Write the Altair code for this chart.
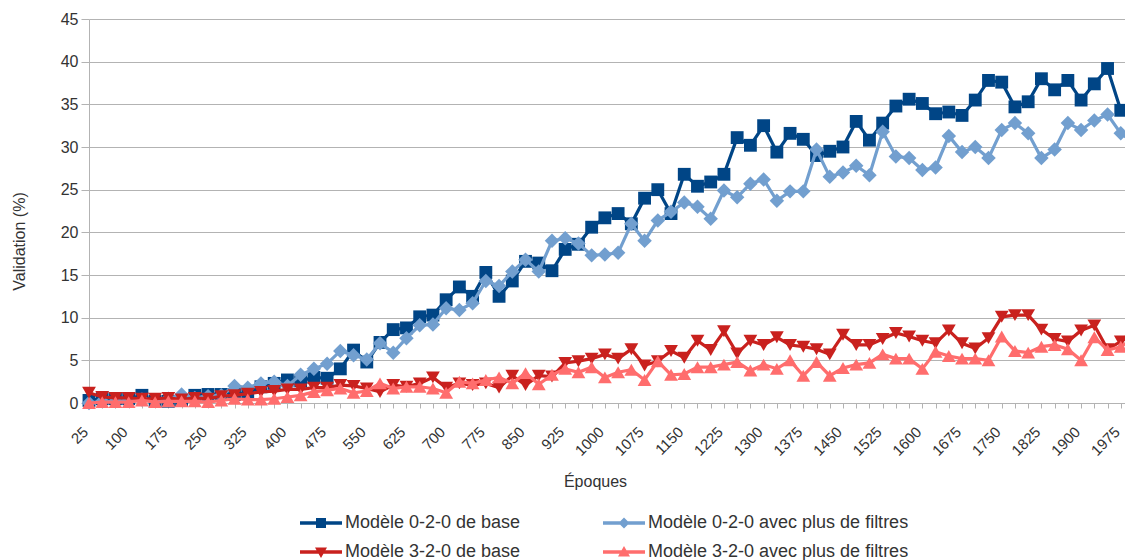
import altair as alt
import pandas as pd

epochs = [25, 50, 75, 100, 125, 150, 175, 200, 225, 250,
          275, 300, 325, 350, 375, 400, 425, 450, 475, 500,
          525, 550, 575, 600, 625, 650, 675, 700, 725, 750,
          775, 800, 825, 850, 875, 900, 925, 950, 975, 1000,
          1025, 1050, 1075, 1100, 1125, 1150, 1175, 1200, 1225, 1250,
          1275, 1300, 1325, 1350, 1375, 1400, 1425, 1450, 1475, 1500,
          1525, 1550, 1575, 1600, 1625, 1650, 1675, 1700, 1725, 1750,
          1775, 1800, 1825, 1850, 1875, 1900, 1925, 1950, 1975, 2000]

y_ticks = [0, 5, 10, 15, 20, 25, 30, 35, 40, 45]

names = ["Modèle 0-2-0 de base", "Modèle 0-2-0 avec plus de filtres",
         "Modèle 3-2-0 de base", "Modèle 3-2-0 avec plus de filtres"]
colors = ["#004586", "#729fcf", "#c9211e", "#ff6d6d"]

base_020 = [0.3, 0.5, 0.5, 0.5, 0.9, 0.2, 0.2, 0.3, 0.9, 1.0,
            1.0, 1.0, 1.2, 1.9, 2.3, 2.7, 2.6, 3.0, 2.9, 4.0,
            6.2, 4.8, 7.1, 8.6, 8.8, 10.1, 10.3, 12.1, 13.6, 12.5,
            15.3, 12.5, 14.3, 16.6, 16.4, 15.5, 18.0, 18.6, 20.6, 21.7,
            22.2, 21.0, 24.0, 25.0, 22.2, 26.8, 25.4, 25.9, 26.8, 31.1,
            30.2, 32.5, 29.4, 31.6, 30.9, 29.0, 29.5, 30.0, 33.0, 30.8,
            32.8, 34.8, 35.6, 35.1, 33.9, 34.1, 33.7, 35.5, 37.8, 37.6,
            34.7, 35.3, 38.0, 36.7, 37.8, 35.5, 37.4, 39.2, 34.3, 33.0]

filt_020 = [0.0, 0.2, 0.2, 0.3, 0.4, 0.3, 0.5, 1.0, 0.6, 0.8,
            0.9, 2.0, 1.8, 2.3, 2.5, 2.0, 3.3, 4.0, 4.6, 6.1,
            5.6, 5.1, 7.0, 5.9, 7.6, 9.1, 9.2, 11.1, 10.9, 11.7,
            14.3, 13.7, 15.4, 16.8, 15.4, 19.0, 19.3, 18.7, 17.3, 17.4,
            17.6, 21.0, 19.0, 21.4, 22.4, 23.5, 23.0, 21.6, 24.9, 24.1,
            25.7, 26.2, 23.7, 24.8, 24.8, 29.7, 26.5, 27.0, 27.8, 26.7,
            31.8, 28.9, 28.7, 27.3, 27.6, 31.3, 29.4, 30.0, 28.7, 32.0,
            32.8, 31.6, 28.7, 29.7, 32.8, 32.0, 33.1, 33.8, 31.6, 30.5]

base_320 = [1.2, 0.7, 0.6, 0.6, 0.5, 0.5, 0.6, 0.4, 0.6, 0.5,
            0.8, 0.9, 1.1, 1.3, 1.4, 1.6, 1.6, 1.8, 1.8, 2.1,
            2.0, 1.7, 1.3, 2.1, 1.9, 2.3, 3.0, 1.8, 2.3, 2.1,
            2.3, 1.8, 3.2, 2.1, 3.2, 3.1, 4.7, 4.9, 5.2, 5.7,
            5.2, 6.3, 4.4, 4.9, 6.1, 5.3, 7.3, 6.2, 8.4, 5.8,
            7.3, 6.8, 7.7, 6.8, 6.6, 6.3, 5.7, 8.0, 6.8, 6.8,
            7.5, 8.2, 7.8, 7.3, 7.0, 8.5, 7.0, 6.4, 7.6, 10.1,
            10.3, 10.3, 8.6, 7.5, 7.2, 8.5, 9.1, 6.3, 7.2, 8.6]

filt_320 = [0.0, 0.1, 0.1, 0.1, 0.3, 0.1, 0.2, 0.2, 0.2, 0.1,
            0.3, 0.5, 0.4, 0.4, 0.5, 0.7, 0.9, 1.3, 1.5, 1.7,
            1.2, 1.4, 2.3, 1.7, 1.9, 1.9, 1.7, 1.2, 2.5, 2.3,
            2.7, 3.0, 2.3, 3.5, 2.2, 3.3, 4.0, 3.6, 4.2, 3.0,
            3.6, 3.9, 2.7, 4.9, 3.3, 3.4, 4.2, 4.2, 4.5, 4.8,
            3.8, 4.5, 4.0, 5.0, 3.2, 4.8, 3.2, 4.1, 4.5, 4.7,
            5.7, 5.2, 5.2, 4.0, 6.0, 5.5, 5.2, 5.2, 5.0, 7.8,
            6.1, 5.9, 6.6, 6.8, 6.3, 5.0, 7.7, 6.2, 6.6, 7.6]

series_values = [base_020, filt_020, base_320, filt_320]
marker_shapes = ["square", "diamond", "triangle-down", "triangle-up"]
marker_sizes = [165, 210, 190, 190]

LINE = "M-2.1,-0.18H2.1V0.18H-2.1Z "
legend_paths = [
    LINE + "M-0.5,-0.5H0.5V0.5H-0.5Z",
    LINE + "M0,-0.55L0.55,0L0,0.55L-0.55,0Z",
    LINE + "M-0.6,-0.45H0.6L0,0.6Z",
    LINE + "M0,-0.6L0.6,0.45H-0.6Z",
]

FONT = "Liberation Sans"
TXT = "#333333"
GRID = "#b3b3b3"

frames = []
for name, vals in zip(names, series_values):
    frames.append(pd.DataFrame({"epoch": epochs, "value": vals, "series": name}))
df = pd.concat(frames, ignore_index=True)

x_enc = alt.X(
    "epoch:Q",
    scale=alt.Scale(domain=[25, 2000], range=[0, 1045], nice=False, zero=False),
    axis=alt.Axis(
        values=epochs,
        format="d",
        labelExpr="(datum.value - 25) % 75 == 0 ? datum.label : ''",
        labelAngle=315,
        labelAlign="right",
        labelBaseline="middle",
        labelPadding=21,
        labelOffset=-4,
        labelOverlap=False,
        labelFlush=False,
        labelFont=FONT,
        labelFontSize=15,
        labelColor=TXT,
        tickSize=5,
        tickColor=GRID,
        domainColor=GRID,
        grid=False,
        title="Époques",
        titleFont=FONT,
        titleFontSize=16,
        titleFontWeight="normal",
        titleColor=TXT,
        titleX=506,
        titleY=78,
        titleAlign="center",
        titleBaseline="middle",
    ),
)

y_enc = alt.Y(
    "value:Q",
    scale=alt.Scale(domain=[0, 45], nice=False),
    axis=alt.Axis(
        values=y_ticks,
        grid=True,
        gridColor=GRID,
        gridWidth=1,
        domainColor=GRID,
        tickColor=GRID,
        tickSize=8,
        labelFont=FONT,
        labelFontSize=16,
        labelColor=TXT,
        labelPadding=3,
        title="Validation (%)",
        titleFont=FONT,
        titleFontSize=16,
        titleFontWeight="normal",
        titleColor=TXT,
        titleAngle=270,
        titleX=-70,
        titleY=222,
        titleAlign="center",
        titleBaseline="middle",
    ),
)

layers = []
for name, vals, col, shp, sz in zip(names, series_values, colors, marker_shapes, marker_sizes):
    sub = df[df["series"] == name]
    layers.append(
        alt.Chart(sub).mark_line(color=col, strokeWidth=3.2).encode(x=x_enc, y=y_enc)
    )
    layers.append(
        alt.Chart(sub)
        .mark_point(shape=shp, filled=True, color=col, size=sz, opacity=1, strokeWidth=0)
        .encode(x=x_enc, y=y_enc)
    )

legend_def = alt.Legend(
    title=None,
    orient="none",
    direction="horizontal",
    legendX=222,
    legendY=494,
    columns=2,
    columnPadding=82,
    rowPadding=10,
    labelFont=FONT,
    labelFontSize=18,
    labelColor=TXT,
    labelLimit=500,
    labelOffset=14,
    symbolSize=400,
    symbolStrokeWidth=0,
    symbolOpacity=1,
)

legend_layer = (
    alt.Chart(df)
    .transform_filter("datum.value < 0")
    .mark_point(filled=True, opacity=1)
    .encode(
        x=x_enc,
        y=y_enc,
        fill=alt.Fill("series:N", scale=alt.Scale(domain=names, range=colors), legend=legend_def),
        shape=alt.Shape("series:N", scale=alt.Scale(domain=names, range=legend_paths), legend=legend_def),
    )
)
layers.append(legend_layer)

chart = (
    alt.layer(*layers)
    .properties(
        width=1036,
        height=384,
        autosize=alt.AutoSizeParams(type="none"),
        padding={"left": 81, "top": 11, "right": 0, "bottom": 157},
        background="white",
    )
    .configure_view(strokeWidth=0)
)

chart.save("out.html", embed_options={"renderer": "svg", "actions": False})
